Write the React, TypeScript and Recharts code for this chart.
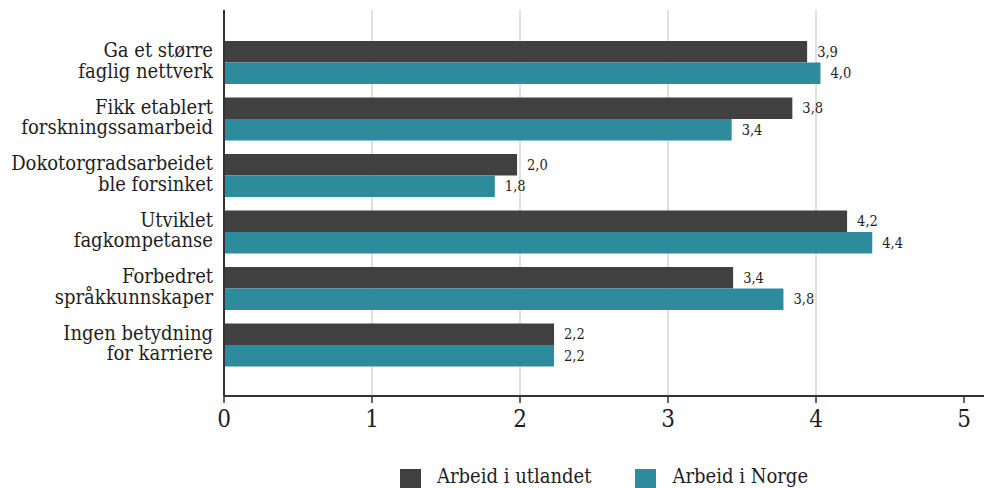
import { BarChart, Bar, XAxis, YAxis, CartesianGrid, LabelList } from 'recharts'

const categories = [
  'Ga et større\nfaglig nettverk',
  'Fikk etablert\nforskningssamarbeid',
  'Dokotorgradsarbeidet\nble forsinket',
  'Utviklet\nfagkompetanse',
  'Forbedret\nspråkkunnskaper',
  'Ingen betydning\nfor karriere',
]
const utlandet = [3.94, 3.84, 1.98, 4.21, 3.44, 2.23]
const norge = [4.03, 3.43, 1.83, 4.38, 3.78, 2.23]
const seriesNames = ['Arbeid i utlandet', 'Arbeid i Norge']
const seriesColors = ['#404040', '#2d8b9b']
const xTicks = [0, 1, 2, 3, 4, 5]
const gridValues = [1, 2, 3, 4]

const FONT = '"DejaVu Serif Condensed", "DejaVu Serif", serif'
const TEXT = '#1e1e1e'

const data = categories.map((name, i) => ({
  name,
  utlandet: utlandet[i],
  norge: norge[i],
}))

const fmt = (v: number) => v.toFixed(1).replace('.', ',')

function CategoryTick({ x, y, payload }: { x?: number; y?: number; payload?: { value: string } }) {
  const lines = String(payload?.value ?? '').split('\n')
  return (
    <text x={x} y={y} textAnchor="end" fontFamily={FONT} fontSize={20} fill={TEXT}>
      {lines.map((l, i) => (
        <tspan key={i} x={x} dy={i === 0 ? -5 : 20.5}>
          {l}
        </tspan>
      ))}
    </text>
  )
}

function ValueTick({ x, y, payload }: { x?: number; y?: number; payload?: { value: number } }) {
  return (
    <text x={x} y={y} dy={24} textAnchor="middle" fontFamily={FONT} fontSize={24} fill={TEXT}>
      {payload?.value}
    </text>
  )
}

function Legend() {
  return (
    <div
      style={{
        position: 'absolute',
        left: 400,
        top: 464,
        display: 'flex',
        alignItems: 'flex-start',
        fontFamily: FONT,
        fontSize: 20,
        color: TEXT,
      }}
    >
      {seriesNames.map((n, i) => (
        <div key={n} style={{ display: 'flex', alignItems: 'flex-start', marginRight: 44 }}>
          <span style={{ width: 21, height: 22, marginTop: 5, background: seriesColors[i], marginRight: 16 }} />
          <span>{n}</span>
        </div>
      ))}
    </div>
  )
}

export default function App() {
  return (
    <div style={{ position: 'absolute', left: 0, top: 0, width: 984, height: 488, background: '#fff' }}>
      <BarChart
        width={984}
        height={488}
        data={data}
        layout="vertical"
        margin={{ top: 10, right: 0, left: 0, bottom: 62 }}
        barGap={0}
        barSize={21.5}
      >
        <CartesianGrid horizontal={false} verticalValues={gridValues} stroke="#e0e0e0" strokeWidth={2} />
        <XAxis
          type="number"
          domain={[0, 5.135]}
          ticks={xTicks}
          height={30}
          tick={<ValueTick />}
          tickSize={7}
          tickMargin={0}
          axisLine={{ stroke: '#333', strokeWidth: 2 }}
          tickLine={{ stroke: '#333', strokeWidth: 1.5 }}
        />
        <YAxis
          type="category"
          dataKey="name"
          width={224}
          tick={<CategoryTick />}
          tickSize={0}
          tickMargin={11}
          tickLine={false}
          axisLine={{ stroke: '#333', strokeWidth: 2 }}
          padding={{ top: 24, bottom: 23 }}
          interval={0}
        />
        <Bar dataKey="utlandet" fill={seriesColors[0]} isAnimationActive={false}>
          <LabelList dataKey="utlandet" position="right" offset={10} formatter={fmt} fontFamily={FONT} fontSize={14.5} fill={TEXT} />
        </Bar>
        <Bar dataKey="norge" fill={seriesColors[1]} isAnimationActive={false}>
          <LabelList dataKey="norge" position="right" offset={10} formatter={fmt} fontFamily={FONT} fontSize={14.5} fill={TEXT} />
        </Bar>
      </BarChart>
      <Legend />
    </div>
  )
}
